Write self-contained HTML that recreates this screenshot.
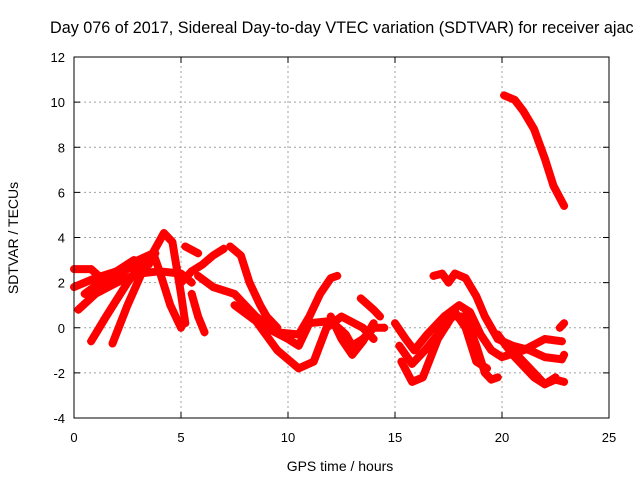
<!DOCTYPE html>
<html><head><meta charset="utf-8"><style>
body{margin:0;background:#fff}
svg{display:block;font-family:"Liberation Sans",sans-serif}
</style></head><body>
<svg id="c" width="640" height="480" xmlns="http://www.w3.org/2000/svg">
<rect width="640" height="480" fill="#fff"/>
<text x="50" y="33" font-size="16.2" text-anchor="start">Day 076 of 2017, Sidereal Day-to-day VTEC variation (SDTVAR) for receiver ajac</text>
<text x="340" y="471" font-size="14" text-anchor="middle">GPS time / hours</text>
<text x="18" y="238" font-size="14" text-anchor="middle" transform="rotate(-90 18 238)">SDTVAR / TECUs</text>
<g id="grid"></g><g id="ticks"></g><g id="marks"></g>
<rect x="74" y="57" width="535" height="361" fill="none" stroke="#000" stroke-width="1"/>
</svg>
<script>
const xTicks=[0,5,10,15,20,25];
const yTicks=[-4,-2,0,2,4,6,8,10,12];
const trackA_t=[0,0.8,1.5,2.5,3.5,4.2,4.6,5.0,5.2], trackA_v=[2.6,2.6,2.0,2.6,3.0,4.2,3.8,1.5,0.2];
const trackB_t=[0,1,2,3,3.7,4.0,4.5,5.0], trackB_v=[1.8,2.2,2.5,3.0,3.3,2.5,1.0,0];
const trackC_t=[0.2,1,2,3,4,5,5.5], trackC_v=[0.8,1.5,2.0,2.4,2.5,2.4,2.0];
const trackD_t=[0.8,1.5,2.5,3.3], trackD_v=[-0.6,0.5,2.0,3.0];
const trackE_t=[1.8,2.5,3.2,3.8], trackE_v=[-0.7,1.0,2.5,3.3];
const trackF_t=[0.5,1.5,2.8,3.5], trackF_v=[1.5,2.2,3.0,2.8];
const trackG_t=[5.2,5.8], trackG_v=[3.6,3.3];
const trackH_t=[5.0,5.5,6,6.5,7.0], trackH_v=[2.0,2.5,2.8,3.2,3.5];
const trackI_t=[5.5,5.8,6.1], trackI_v=[1.5,0.5,-0.2];
const trackJ_t=[7.3,7.8,8.2,8.7,9,9.5], trackJ_v=[3.6,3.2,2.0,1.0,0.5,0];
const trackK_t=[5.8,6.5,7.5,8.5,9.5,10.5,11,11.5,12,12.3], trackK_v=[2.3,1.8,1.5,0.5,-0.2,-0.3,0.5,1.5,2.2,2.3];
const trackL_t=[7.5,8.5,9.5,10.5,11.2,11.8,12.5,13.5,14.0], trackL_v=[1.0,0.3,-1.0,-1.8,-1.5,0,0.5,0.0,-0.5];
const trackM_t=[8,9,10,10.5,11,12,12.7,13,13.5,14,14.5], trackM_v=[0.8,0,-0.5,-0.8,0.2,0.3,-0.3,-0.8,-0.5,0,0];
const trackN_t=[12,12.5,13,13.5,14], trackN_v=[0.5,-0.5,-1.2,-0.6,0.2];
const trackO_t=[13.4,14.0,14.3], trackO_v=[1.3,0.8,0.5];
const trackP_t=[15.0,15.5,15.9,16.5,17.3,18,18.5,19,19.5,20,21,22,22.8], trackP_v=[0.2,-0.5,-1.0,-0.3,0.5,1.0,0.7,-0.3,-1.0,-1.3,-1.0,-0.5,-0.6];
const trackQ_t=[15.2,15.8,16.4,17,17.6,18.3,18.8,19.2,19.5,19.8], trackQ_v=[-0.8,-1.6,-1.0,-0.3,0.5,0.5,-0.8,-2.0,-2.3,-2.2];
const trackR_t=[15.3,15.8,16.3,17,17.8,18.3,18.8,19.3], trackR_v=[-1.5,-2.4,-2.2,-0.5,0.7,0.0,-1.5,-1.8];
const trackS_t=[16.8,17.2,17.5,17.8,18.3,18.8,19.2,19.8,20.5,21.3,22,22.8,22.9], trackS_v=[2.3,2.4,2.0,2.4,2.2,1.4,0.5,-0.5,-0.8,-1.0,-1.3,-1.4,-1.2];
const trackT_t=[20.8,21.5,22,22.5,22.9], trackT_v=[-1.3,-2.0,-2.5,-2.3,-2.4];
const trackU_t=[19.8,20.5,21,21.5,22,22.5], trackU_v=[-0.3,-1.2,-1.7,-2.2,-2.5,-2.2];
const trackV_t=[20.1,20.6,21,21.5,22,22.4,22.9], trackV_v=[10.3,10.1,9.6,8.8,7.5,6.3,5.4];
const trackW_t=[22.7,22.9], trackW_v=[0.0,0.2];
const tracks=[[trackA_t,trackA_v],[trackB_t,trackB_v],[trackC_t,trackC_v],[trackD_t,trackD_v],[trackE_t,trackE_v],[trackF_t,trackF_v],[trackG_t,trackG_v],[trackH_t,trackH_v],[trackI_t,trackI_v],[trackJ_t,trackJ_v],[trackK_t,trackK_v],[trackL_t,trackL_v],[trackM_t,trackM_v],[trackN_t,trackN_v],[trackO_t,trackO_v],[trackP_t,trackP_v],[trackQ_t,trackQ_v],[trackR_t,trackR_v],[trackS_t,trackS_v],[trackT_t,trackT_v],[trackU_t,trackU_v],[trackV_t,trackV_v],[trackW_t,trackW_v]];
const NS="http://www.w3.org/2000/svg";
const X0=74,X1=609,Y0=418,Y1=57;
function sx(h){return X0+(h-0)/(25-0)*(X1-X0);}
function sy(v){return Y0-(v+4)/16*(Y0-Y1);}
function mk(tag,attrs,parent){const e=document.createElementNS(NS,tag);for(const k in attrs)e.setAttribute(k,attrs[k]);parent.appendChild(e);return e;}
const grid=document.getElementById('grid'),ticks=document.getElementById('ticks'),marks=document.getElementById('marks');
xTicks.forEach(t=>{
  const x=sx(t);
  if(t>0&&t<25){const g=mk('line',{x1:x,y1:Y0,x2:x,y2:Y1,stroke:'#a0a0a0','stroke-dasharray':'2,3'},grid);
  
  }
  const l=mk('line',{x1:x,y1:Y0,x2:x,y2:Y0-6,stroke:'#000'},ticks);
  
  
  mk('line',{x1:x,y1:Y1,x2:x,y2:Y1+6,stroke:'#000'},ticks);
  const tx=mk('text',{x:x,y:Y0+24,'font-size':13,'text-anchor':'middle'},ticks);tx.textContent=t;
  
  
});
yTicks.forEach(t=>{
  const y=sy(t);
  if(t>-4&&t<12){const g=mk('line',{x1:X0,y1:y,x2:X1,y2:y,stroke:'#a0a0a0','stroke-dasharray':'2,3'},grid);
  
  }
  const l=mk('line',{x1:X0,y1:y,x2:X0+6,y2:y,stroke:'#000'},ticks);
  
  
  mk('line',{x1:X1,y1:y,x2:X1-6,y2:y,stroke:'#000'},ticks);
  const tx=mk('text',{x:X0-9,y:y+5,'font-size':13,'text-anchor':'end'},ticks);tx.textContent=t;
  
  
});
tracks.forEach(tr=>{
  const [ts,vs]=tr;
  const pts=ts.map((t,i)=>sx(t).toFixed(1)+','+sy(vs[i]).toFixed(1)).join(' ');
  const p=mk('polyline',{points:pts,fill:'none',stroke:'#ff0000','stroke-width':8,'stroke-linejoin':'round','stroke-linecap':'round'},marks);
  
  
  ts.forEach((t,i)=>{
    const x=sx(t),y=sy(vs[i]);
    const m=mk('path',{d:`M${x-4},${y}H${x+4}M${x},${y-4}V${y+4}`,stroke:'#ff0000','stroke-width':1.2},marks);
    
    
  });
});
</script>
</body></html>
